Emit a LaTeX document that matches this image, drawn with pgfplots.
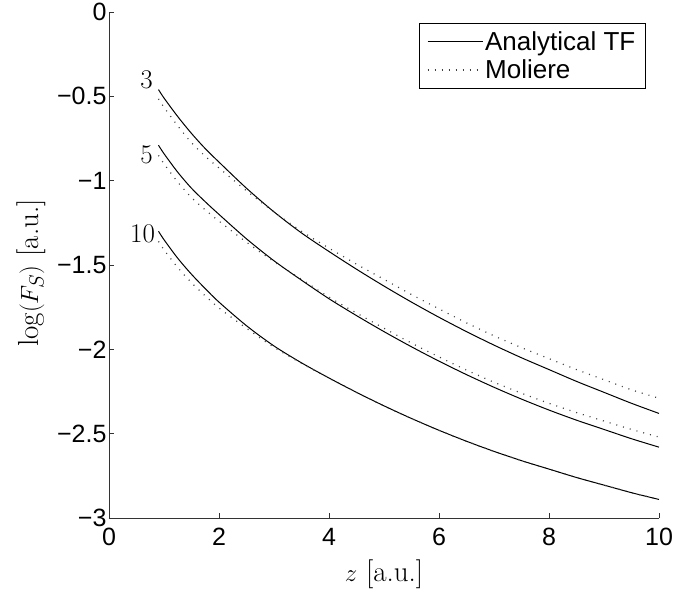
\documentclass[border=0pt]{standalone}
\usepackage{fontspec}
\usepackage{pgfplots}
\pgfplotsset{compat=1.18}
\newfontfamily\arial{Liberation Sans}
\begin{document}
\begin{tikzpicture}
\begin{axis}[
  name=ax,
  scale only axis,
  width=550pt, height=506pt,
  xmin=0, xmax=10, ymin=-3, ymax=0,
  axis lines=left,
  axis line style={-, line width=0.8pt, black!80},
  tick style={line width=0.8pt, black!80},
  tick align=inside,
  major tick length=5pt,
  xtick={0,2,4,6,8,10},
  xticklabels={0,2,4,6,8,10},
  ytick={-3,-2.5,-2,-1.5,-1,-0.5,0},
  yticklabels={−3,−2.5,−2,−1.5,−1,−0.5,0},
  tick label style={font=\fontsize{25}{30}\selectfont\arial},
  xticklabel style={yshift=-7pt},
  yticklabel style={xshift=1pt},
  xlabel={$z$ [a.u.]},
  ylabel={$\log(F_S)$ [a.u.]},
  label style={font=\fontsize{29}{34}\selectfont},
  xlabel style={at={(axis description cs:0.5,-0.125)}, anchor=base},
  ylabel style={at={(axis description cs:-0.129,0.484)}, anchor=base},
  legend style={at={(0.976,0.978)}, anchor=north east, draw=black, line width=0.8pt,
    font=\fontsize{26}{31}\selectfont\arial, inner xsep=8pt, inner ysep=6pt,
    row sep=4pt, cells={anchor=west}},
  legend image code/.code={\draw[#1] (0pt,0pt) -- (55pt,0pt);},
  clip=false,
]
\addplot[black, line width=1pt, smooth] coordinates {
(0.9,-0.46) (1.0,-0.51) (1.25,-0.62) (1.5,-0.72) (1.75,-0.81) (2.0,-0.89) (2.5,-1.045) (3.0,-1.185) (3.5,-1.31) (4.0,-1.42) (4.5,-1.525) (5.0,-1.625) (5.5,-1.72) (6.0,-1.81) (6.5,-1.895) (7.0,-1.975) (7.5,-2.05) (8.0,-2.12) (8.5,-2.19) (9.0,-2.255) (9.5,-2.32) (10,-2.38)};
\addlegendentry{Analytical TF}
\addplot[black!75, line width=1.2pt, dash pattern=on 1pt off 6pt, smooth] coordinates {
(0.9,-0.515) (1.0,-0.565) (1.25,-0.675) (1.5,-0.775) (1.75,-0.855) (2.0,-0.925) (2.5,-1.06) (3.0,-1.185) (3.5,-1.30) (4.0,-1.40) (4.5,-1.495) (5.0,-1.585) (5.5,-1.675) (6.0,-1.76) (6.5,-1.843) (7.0,-1.92) (7.5,-1.99) (8.0,-2.055) (8.5,-2.12) (9.0,-2.18) (9.5,-2.24) (10,-2.29)};
\addlegendentry{Moliere}
\addplot[black, line width=1pt, smooth, forget plot] coordinates {
(0.9,-0.79) (1.0,-0.84) (1.25,-0.95) (1.5,-1.045) (1.75,-1.125) (2.0,-1.20) (2.5,-1.345) (3.0,-1.475) (3.5,-1.59) (4.0,-1.70) (4.5,-1.80) (5.0,-1.895) (5.5,-1.985) (6.0,-2.07) (6.5,-2.15) (7.0,-2.225) (7.5,-2.295) (8.0,-2.36) (8.5,-2.42) (9.0,-2.475) (9.5,-2.53) (10,-2.58)};
\addplot[black!75, line width=1.2pt, dash pattern=on 1pt off 6pt, smooth, forget plot] coordinates {
(0.9,-0.85) (1.0,-0.90) (1.25,-1.008) (1.5,-1.10) (1.75,-1.173) (2.0,-1.24) (2.5,-1.365) (3.0,-1.48) (3.5,-1.585) (4.0,-1.69) (4.5,-1.785) (5.0,-1.875) (5.5,-1.963) (6.0,-2.045) (6.5,-2.123) (7.0,-2.195) (7.5,-2.26) (8.0,-2.32) (8.5,-2.375) (9.0,-2.425) (9.5,-2.475) (10,-2.52)};
\addplot[black, line width=1pt, smooth, forget plot] coordinates {
(0.9,-1.30) (1.0,-1.35) (1.25,-1.46) (1.5,-1.555) (1.75,-1.64) (2.0,-1.72) (2.5,-1.86) (3.0,-1.98) (3.5,-2.08) (4.0,-2.17) (4.5,-2.255) (5.0,-2.335) (5.5,-2.41) (6.0,-2.48) (6.5,-2.545) (7.0,-2.605) (7.5,-2.66) (8.0,-2.71) (8.5,-2.76) (9.0,-2.805) (9.5,-2.85) (10,-2.89)};
\addplot[black!75, line width=1.2pt, dash pattern=on 1pt off 6pt, smooth, forget plot] coordinates {
(0.9,-1.36) (1.0,-1.41) (1.25,-1.515) (1.5,-1.605) (1.75,-1.683) (2.0,-1.755) (2.5,-1.875) (3.0,-1.988) (3.5,-2.083) (4.0,-2.17) (4.5,-2.255) (5.0,-2.335) (5.5,-2.41) (6.0,-2.48) (6.5,-2.545) (7.0,-2.605) (7.5,-2.66) (8.0,-2.71) (8.5,-2.76) (9.0,-2.805) (9.5,-2.85) (10,-2.89)};
\node[anchor=east, inner sep=0pt, font=\fontsize{27}{32}\selectfont] at (axis cs:0.8,-0.403) {3};
\node[anchor=east, inner sep=0pt, font=\fontsize{27}{32}\selectfont] at (axis cs:0.8,-0.848) {5};
\node[anchor=east, inner sep=0pt, font=\fontsize{27}{32}\selectfont] at (axis cs:0.84,-1.316) {10};
\coordinate (bl) at (rel axis cs:0,0);
\coordinate (tr) at (rel axis cs:1,1);
\end{axis}
\pgfresetboundingbox
\path[use as bounding box] ([xshift=-109pt,yshift=-73pt]bl) rectangle ([xshift=17pt,yshift=12pt]tr);
\end{tikzpicture}
\end{document}
